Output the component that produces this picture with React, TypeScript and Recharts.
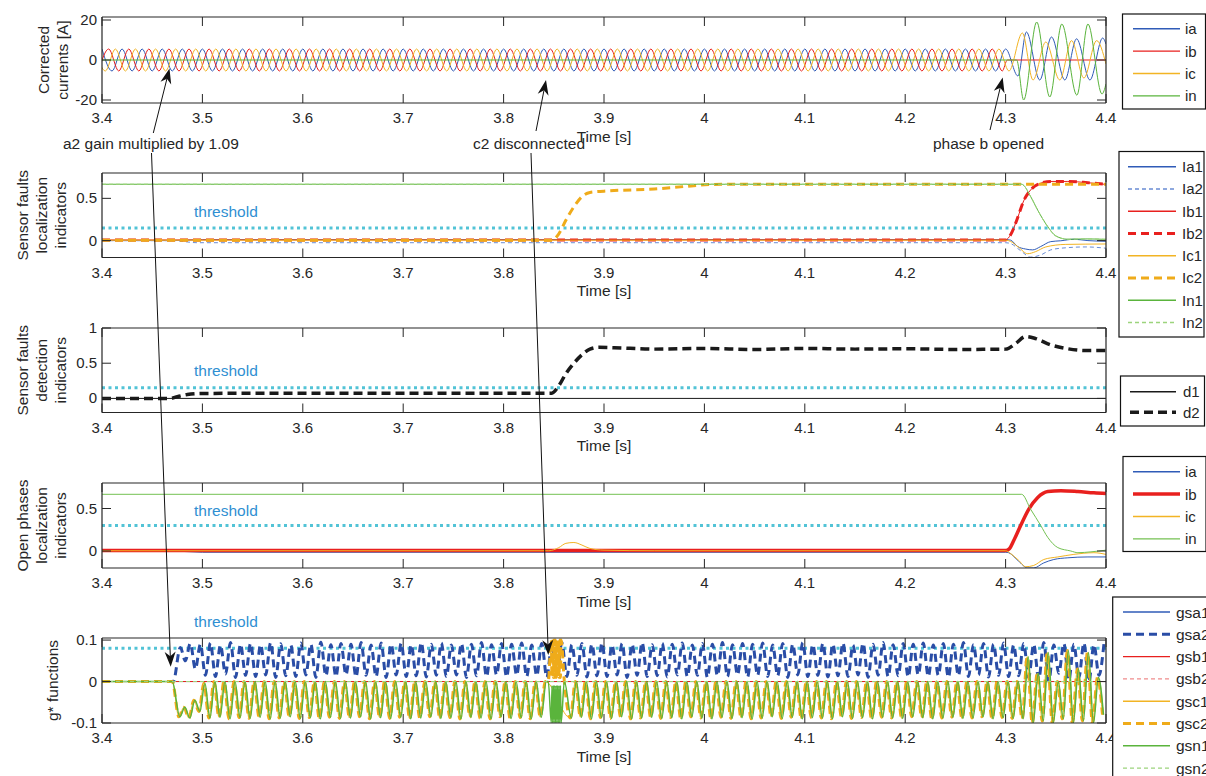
import React from 'react';
import { LineChart, Line, XAxis, YAxis, ReferenceLine } from 'recharts';

const FONT = '"Liberation Sans", Arial, Helvetica, sans-serif';
const AX = '#262626';
const TXT = '#262626';
const BLUE = '#2f5bb7';
const BLUE_L = '#6a8cd4';
const BLUE_D = '#2a4da6';
const RED = '#e8201e';
const PINK = '#f08c8c';
const YEL = '#f2b424';
const ORANGE = '#efab1a';
const GREEN = '#5ab43c';
const GREEN_L = '#9cd47c';
const CYAN = '#52c3d6';
const THR_TXT = '#2f8fd2';
const TICK = 9;

const timeTicks = [3.4, 3.5, 3.6, 3.7, 3.8, 3.9, 4.0, 4.1, 4.2, 4.3, 4.4];
const timeLabels = ['3.4', '3.5', '3.6', '3.7', '3.8', '3.9', '4', '4.1', '4.2', '4.3', '4.4'];

// ---------- panel 1: corrected currents, extrema every 10 ms ----------
const iaPeaks = [
  5.5, -5.5, 5.5, -5.5, 5.5, -5.5, 5.5, -5.5, 5.5, -5.5,
  5.5, -5.5, 5.5, -5.5, 5.5, -5.5, 5.5, -5.5, 5.5, -5.5,
  5.5, -5.5, 5.5, -5.5, 5.5, -5.5, 5.5, -5.5, 5.5, -5.5,
  5.5, -5.5, 5.5, -5.5, 5.5, -5.5, 5.5, -5.5, 5.5, -5.5,
  5.5, -5.5, 5.5, -5.5, 5.5, -5.5, 5.5, -5.5, 5.5, -5.5,
  5.5, -5.5, 5.5, -5.5, 5.5, -5.5, 5.5, -5.5, 5.5, -5.5,
  5.5, -5.5, 5.5, -5.5, 5.5, -5.5, 5.5, -5.5, 5.5, -5.5,
  5.5, -5.5, 5.5, -5.5, 5.5, -5.5, 5.5, -5.5, 5.5, -5.5,
  5.5, -5.5, 5.5, -5.5, 5.5, -5.5, 5.5, -5.5, 5.5, -5.5,
  5.5,
];
const ibPeaks = [
  -5.5, 5.5, -5.5, 5.5, -5.5, 5.5, -5.5, 5.5, -5.5, 5.5,
  -5.5, 5.5, -5.5, 5.5, -5.5, 5.5, -5.5, 5.5, -5.5, 5.5,
  -5.5, 5.5, -5.5, 5.5, -5.5, 5.5, -5.5, 5.5, -5.5, 5.5,
  -5.5, 5.5, -5.5, 5.5, -5.5, 5.5, -5.5, 5.5, -5.5, 5.5,
  -5.5, 5.5, -5.5, 5.5, -5.5, 5.5, -5.5, 5.5, -5.5, 5.5,
  -5.5, 5.5, -5.5, 5.5, -5.5, 5.5, -5.5, 5.5, -5.5, 5.5,
  -5.5, 5.5, -5.5, 5.5, -5.5, 5.5, -5.5, 5.5, -5.5, 5.5,
  -5.5, 5.5, -5.5, 5.5, -5.5, 5.5, -5.5, 5.5, -5.5, 5.5,
  -5.5, 5.5, -5.5, 5.5, -5.5, 5.5, -5.5, 5.5, -5.5, 5.5,
  -5.5,
];
const icPeaks = [
  5.5, -5.5, 5.5, -5.5, 5.5, -5.5, 5.5, -5.5, 5.5, -5.5,
  5.5, -5.5, 5.5, -5.5, 5.5, -5.5, 5.5, -5.5, 5.5, -5.5,
  5.5, -5.5, 5.5, -5.5, 5.5, -5.5, 5.5, -5.5, 5.5, -5.5,
  5.5, -5.5, 5.5, -5.5, 5.5, -5.5, 5.5, -5.5, 5.5, -5.5,
  5.5, -5.5, 5.5, -5.5, 5.5, -5.5, 5.5, -5.5, 5.5, -5.5,
  5.5, -5.5, 5.5, -5.5, 5.5, -5.5, 5.5, -5.5, 5.5, -5.5,
  5.5, -5.5, 5.5, -5.5, 5.5, -5.5, 5.5, -5.5, 5.5, -5.5,
  5.5, -5.5, 5.5, -5.5, 5.5, -5.5, 5.5, -5.5, 5.5, -5.5,
  5.5, -5.5, 5.5, -5.5, 5.5, -5.5, 5.5, -5.5, 5.5, -5.5,
  5.5,
];
const iaAfterT = [4.3123, 4.3207, 4.334, 4.3457, 4.359, 4.3707, 4.384, 4.3967, 4.4];
const iaAfterV = [-8, 14, -10, 11.5, -10, 10.6, -10, 11, 8];
const ibAfterT = [4.3017, 4.4];
const ibAfterV = [0, 0];
const icAfterT = [4.3033, 4.3167, 4.3273, 4.34, 4.354, 4.3657, 4.378, 4.3907, 4.4];
const icAfterV = [-5.5, 13.5, -10, 9, -10, 9.7, -9, 9.7, -2];
const inT = [3.4, 4.311, 4.318, 4.331, 4.344, 4.356, 4.371, 4.382, 4.396, 4.4];
const inV = [0, 0, -20, 19, -18.5, 18, -17.6, 18, -17, -12];

// ---------- panel 2: sensor faults localization ----------
const la1T = [3.4, 3.47, 3.5, 4.3, 4.305, 4.312, 4.32, 4.327, 4.335, 4.345, 4.355, 4.368, 4.382, 4.4];
const la1V = [0, 0, 0.012, 0.012, 0.005, -0.07, -0.1, -0.11, -0.07, -0.012, -0.002, 0.016, 0.0, -0.008];
const la2T = [3.4, 3.47, 3.495, 4.3, 4.305, 4.315, 4.325, 4.335, 4.345, 4.36, 4.38, 4.4];
const la2V = [0, 0, -0.025, -0.025, -0.035, -0.12, -0.195, -0.17, -0.11, -0.085, -0.075, -0.09];
const lbT = [3.4, 4.3, 4.305, 4.312, 4.318, 4.325, 4.335, 4.345, 4.362, 4.382, 4.4];
const lbV = [0.008, 0.008, 0.07, 0.27, 0.47, 0.6, 0.68, 0.7, 0.7, 0.685, 0.665];
const lc1T = [3.4, 4.3, 4.305, 4.313, 4.322, 4.33, 4.34, 4.36, 4.4];
const lc1V = [0.005, 0.005, -0.01, -0.08, -0.155, -0.13, -0.075, -0.045, -0.04];
const lc2T = [3.4, 3.848, 3.855, 3.862, 3.87, 3.878, 3.886, 3.9, 3.95, 3.98, 4.0, 4.02, 4.4];
const lc2V = [0.005, 0.005, 0.08, 0.24, 0.4, 0.52, 0.57, 0.585, 0.61, 0.64, 0.66, 0.667, 0.667];
const lnT = [3.4, 4.316, 4.325, 4.332, 4.342, 4.35, 4.362, 4.38, 4.4];
const lnV = [0.667, 0.667, 0.52, 0.36, 0.165, 0.055, 0.016, 0.02, 0.015];

// ---------- panel 3: sensor faults detection ----------
const d1T = [3.4, 4.4];
const d1V = [0, 0];
const d2T = [3.4, 3.468, 3.475, 3.485, 3.5, 3.6, 3.7, 3.8, 3.848, 3.855, 3.862, 3.87, 3.878, 3.886, 3.895, 3.91,
  3.95, 4.0, 4.05, 4.1, 4.15, 4.2, 4.25, 4.3, 4.31, 4.32, 4.33, 4.345, 4.36, 4.38, 4.4];
const d2V = [0, 0, 0.025, 0.055, 0.07, 0.075, 0.072, 0.072, 0.075, 0.18, 0.35, 0.5, 0.62, 0.7, 0.725, 0.72,
  0.7, 0.71, 0.695, 0.71, 0.7, 0.705, 0.695, 0.7, 0.78, 0.88, 0.85, 0.76, 0.71, 0.68, 0.68];

// ---------- panel 4: open phases localization ----------
const oaT = [3.4, 3.47, 3.5, 4.3, 4.303, 4.313, 4.322, 4.328, 4.338, 4.348, 4.362, 4.382, 4.4];
const oaV = [0, 0, -0.015, -0.015, -0.02, -0.12, -0.2, -0.2, -0.14, -0.1, -0.08, -0.07, -0.07];
const obT = [3.4, 4.3, 4.304, 4.308, 4.315, 4.323, 4.332, 4.342, 4.355, 4.372, 4.388, 4.4];
const obV = [0.005, 0.005, 0.03, 0.12, 0.3, 0.49, 0.63, 0.7, 0.71, 0.7, 0.685, 0.677];
const ocT = [3.4, 3.845, 3.855, 3.862, 3.87, 3.878, 3.886, 3.9, 3.95, 4.3, 4.305, 4.313, 4.32, 4.328, 4.338, 4.352, 4.368, 4.388, 4.4];
const ocV = [0.003, 0.003, 0.04, 0.09, 0.1, 0.07, 0.03, 0.01, 0.003, 0.003, -0.03, -0.11, -0.185, -0.17, -0.1, -0.07, -0.04, -0.02, -0.04];
const onT = [3.4, 4.316, 4.325, 4.335, 4.342, 4.352, 4.365, 4.372, 4.385, 4.4];
const onV = [0.667, 0.667, 0.49, 0.3, 0.16, 0.04, 0, -0.02, -0.01, 0.01];

// ---------- panel 5: g* functions, extrema every 5 ms ----------
const gFlatT = [3.4, 3.47];
const gFlatV = [0, 0];
const gZeroT = [3.4, 4.4];
const gZeroV = [0, 0];
const gsa2Peaks = [
  0.082, 0.05, 0.092, 0.03, 0.09, 0.015, 0.093, 0.012, 0.088, 0.018,
  0.094, 0.01, 0.09, 0.015, 0.092, 0.012, 0.089, 0.016, 0.094, 0.01,
  0.091, 0.014, 0.088, 0.012, 0.093, 0.016, 0.09, 0.01, 0.095, 0.014,
  0.089, 0.012, 0.092, 0.016, 0.09, 0.011, 0.094, 0.015, 0.088, 0.012,
  0.093, 0.01, 0.09, 0.016, 0.092, 0.012, 0.089, 0.014, 0.094, 0.011,
  0.09, 0.015, 0.093, 0.012, 0.088, 0.016, 0.092, 0.01, 0.09, 0.014,
  0.094, 0.012, 0.089, 0.016, 0.092, 0.011, 0.09, 0.015, 0.093, 0.012,
  0.088, 0.014, 0.092, 0.01, 0.09, 0.016, 0.094, 0.012, 0.089, 0.015,
  0.092, 0.011, 0.09, 0.014, 0.093, 0.012, 0.088, 0.016, 0.092, 0.01,
  0.09, 0.015, 0.094, 0.012, 0.089, 0.014, 0.092, 0.011, 0.09, 0.016,
  0.093, 0.012, 0.088, 0.015, 0.092, 0.01, 0.09, 0.014, 0.094, 0.012,
  0.089, 0.016, 0.092, 0.011, 0.09, 0.015, 0.093, 0.012, 0.088, 0.014,
  0.092, 0.01, 0.09, 0.016, 0.094, 0.012, 0.089, 0.015, 0.092, 0.011,
  0.09, 0.014, 0.093, 0.012, 0.088, 0.016, 0.092, 0.01, 0.09, 0.015,
  0.094, 0.012, 0.089, 0.014, 0.092, 0.011, 0.09, 0.016, 0.093, 0.012,
  0.088, 0.015, 0.092, 0.01, 0.09, 0.014, 0.094, 0.012, 0.089, 0.016,
  0.092, 0.011, 0.09, 0.015, 0.093, 0.012, 0.088, 0.014, 0.092, 0.01,
  0.09, 0.005, 0.094, 0, 0.088, 0.02, 0.092, 0.003, 0.09, 0.01,
  0.093, 0, 0.089, 0.015, 0.092,
];
const gscBefore = [
  -0.085, -0.062, -0.088, -0.045, -0.072, -0.004, -0.088, 0, -0.086, 0,
  -0.09, 0, -0.087, 0, -0.089, 0, -0.086, 0, -0.09, 0,
  -0.088, 0, -0.085, 0, -0.089, 0, -0.087, 0, -0.09, 0,
  -0.086, 0, -0.089, 0, -0.088, 0, -0.085, 0, -0.09, 0,
  -0.087, 0, -0.089, 0, -0.086, 0, -0.09, 0, -0.088, 0,
  -0.085, 0, -0.089, 0, -0.087, 0, -0.09, 0, -0.086, 0,
  -0.088, 0, -0.09, 0, -0.085, 0, -0.089, 0, -0.087, 0,
  -0.09, 0, -0.086, 0,
];
const gscAfter = [
  -0.088, 0, -0.086, 0, -0.09, 0, -0.087, 0, -0.089, 0,
  -0.085, 0, -0.09, 0, -0.088, 0, -0.086, 0, -0.089, 0,
  -0.087, 0, -0.09, 0, -0.085, 0, -0.088, 0, -0.09, 0,
  -0.086, 0, -0.089, 0, -0.087, 0, -0.09, 0, -0.088, 0,
  -0.085, 0, -0.089, 0, -0.086, 0, -0.09, 0, -0.087, 0,
  -0.088, 0, -0.09, 0, -0.085, 0, -0.089, 0, -0.087, 0,
  -0.09, 0, -0.086, 0, -0.088, 0, -0.089, 0, -0.085, 0,
  -0.087, 0, -0.09, 0, -0.088, 0, -0.086, 0, -0.089, 0,
  -0.088, 0, -0.085, 0, -0.09, 0, -0.087, 0, -0.089, 0,
  -0.09,
  0.06, -0.1, 0.02, -0.095, 0.07, -0.1, 0, -0.09, 0.075, -0.1, 0.03, -0.095, 0.07, -0.1, 0.01, -0.08,
];
// burst when c2 is disconnected
const spikeT = [3.8445, 3.8475, 3.8482, 3.8489, 3.8496, 3.8503, 3.851, 3.8517, 3.8524, 3.8531,
  3.8538, 3.8545, 3.8552, 3.8559, 3.8566, 3.8573, 3.8605];
const gsc2Spike = [0, 0.1, 0.01, 0.1, 0.01, 0.1, 0.01, 0.1, 0.01, 0.1, 0.01, 0.1, 0.01, 0.1, 0.01, 0.1, 0];
const gsn1Spike = [0, -0.1, -0.01, -0.1, -0.01, -0.1, -0.01, -0.1, -0.01, -0.1, -0.01, -0.1, -0.01, -0.1, -0.01, -0.1, 0];

type Pt = { t: number; v: number };
const grid = (t0: number, dt: number, vals: number[]): Pt[] =>
  vals.map((v, i) => ({ t: +(t0 + i * dt).toFixed(5), v }));
const pts = (ts: number[], vals: number[]): Pt[] => ts.map((t, i) => ({ t, v: vals[i] }));

type Series = { name: string; data: Pt[]; color: string; w: number; dash?: string };
type Legend = { x: number; y: number; w: number; h: number; row0: number; step: number; lx1: number; lx2: number; tx: number; fs: number };
type PanelCfg = {
  top: number; bottom: number; domain: [number, number];
  yTicks: number[]; yLabels: string[];
  series: Series[]; threshold?: number; thrLabelY?: number;
  title: string[]; titleX: number[]; legend: Legend;
};

const panels: PanelCfg[] = [
  {
    top: 17, bottom: 103, domain: [-21.5, 21.5], yTicks: [-20, 0, 20], yLabels: ['-20', '0', '20'],
    title: ['Corrected', 'currents [A]'], titleX: [43, 62],
    legend: { x: 1122.5, y: 14, w: 83, h: 95, row0: 28.7, step: 22.4, lx1: 1133, lx2: 1180, tx: 1185, fs: 15 },
    series: [
      { name: 'ia', color: BLUE, w: 1, data: [...grid(3.4, 0.01, iaPeaks), ...pts(iaAfterT, iaAfterV)] },
      { name: 'ib', color: RED, w: 1, data: [...grid(3.39667, 0.01, ibPeaks), ...pts(ibAfterT, ibAfterV)] },
      { name: 'ic', color: YEL, w: 1, data: [...grid(3.39333, 0.01, icPeaks), ...pts(icAfterT, icAfterV)] },
      { name: 'in', color: GREEN, w: 1, data: pts(inT, inV) },
    ],
  },
  {
    top: 173, bottom: 257.5, domain: [-0.2, 0.8], yTicks: [0, 0.5], yLabels: ['0', '0.5'],
    threshold: 0.15, thrLabelY: 211.7,
    title: ['Sensor faults', 'localization', 'indicators'], titleX: [22, 41.5, 60],
    legend: { x: 1119, y: 151.5, w: 85, h: 185.5, row0: 166.7, step: 22.25, lx1: 1128, lx2: 1176, tx: 1182, fs: 15 },
    series: [
      { name: 'Ia1', color: BLUE, w: 1, data: pts(la1T, la1V) },
      { name: 'Ia2', color: BLUE_L, w: 1, dash: '4 3', data: pts(la2T, la2V) },
      { name: 'Ib1', color: RED, w: 1, data: pts(lbT, lbV) },
      { name: 'Ib2', color: RED, w: 3, dash: '8 5', data: pts(lbT, lbV) },
      { name: 'Ic1', color: YEL, w: 1, data: pts(lc1T, lc1V) },
      { name: 'Ic2', color: ORANGE, w: 3, dash: '8 5', data: pts(lc2T, lc2V) },
      { name: 'In1', color: GREEN, w: 1, data: pts(lnT, lnV) },
      { name: 'In2', color: GREEN_L, w: 1, dash: '4 3', data: pts(lnT, lnV) },
    ],
  },
  {
    top: 328, bottom: 412.5, domain: [-0.2, 1], yTicks: [0, 0.5, 1], yLabels: ['0', '0.5', '1'],
    threshold: 0.15, thrLabelY: 370.7,
    title: ['Sensor faults', 'detection', 'indicators'], titleX: [22, 41.5, 60],
    legend: { x: 1120.5, y: 376, w: 84, h: 50, row0: 391.7, step: 20.5, lx1: 1130, lx2: 1176, tx: 1183, fs: 15 },
    series: [
      { name: 'd1', color: '#1a1a1a', w: 1, data: pts(d1T, d1V) },
      { name: 'd2', color: '#1a1a1a', w: 3.5, dash: '9 5', data: pts(d2T, d2V) },
    ],
  },
  {
    top: 483, bottom: 568, domain: [-0.2, 0.8], yTicks: [0, 0.5], yLabels: ['0', '0.5'],
    threshold: 0.3, thrLabelY: 510,
    title: ['Open phases', 'localization', 'indicators'], titleX: [22, 41.5, 60],
    legend: { x: 1123, y: 456.5, w: 83, h: 95, row0: 471.7, step: 22.4, lx1: 1133, lx2: 1180, tx: 1185, fs: 15 },
    series: [
      { name: 'ia', color: BLUE, w: 1, data: pts(oaT, oaV) },
      { name: 'ib', color: RED, w: 3.5, data: pts(obT, obV) },
      { name: 'ic', color: YEL, w: 1, data: pts(ocT, ocV) },
      { name: 'in', color: '#74c152', w: 1, data: pts(onT, onV) },
    ],
  },
  {
    top: 638, bottom: 723, domain: [-0.1, 0.105], yTicks: [-0.1, 0, 0.1], yLabels: ['-0.1', '0', '0.1'],
    threshold: 0.08, thrLabelY: 621.7,
    title: ['g* functions'], titleX: [52],
    legend: { x: 1112.7, y: 597, w: 110, h: 200, row0: 612, step: 22.3, lx1: 1123, lx2: 1170, tx: 1176, fs: 15.5 },
    series: [
      { name: 'gsa1', color: BLUE, w: 1, data: pts(gZeroT, gZeroV) },
      { name: 'gsa2', color: BLUE_D, w: 3, dash: '8 5', data: [...pts([3.4, 3.471], gFlatV), ...grid(3.478, 0.005, gsa2Peaks)] },
      { name: 'gsb1', color: RED, w: 1, data: pts(gZeroT, gZeroV) },
      { name: 'gsb2', color: PINK, w: 1, dash: '4 3', data: pts(gZeroT, gZeroV) },
      { name: 'gsc1', color: YEL, w: 1, data: [...pts(gFlatT, gFlatV), ...grid(3.4765, 0.005, gscBefore), ...grid(3.8665, 0.005, gscAfter)] },
      { name: 'gsc2', color: ORANGE, w: 3, dash: '8 5', data: [...pts(gFlatT, gFlatV), ...grid(3.4765, 0.005, gscBefore), ...pts(spikeT, gsc2Spike), ...grid(3.8665, 0.005, gscAfter)] },
      { name: 'gsn1', color: GREEN, w: 1.5, data: [...pts(gFlatT, gFlatV), ...grid(3.4775, 0.005, gscBefore), ...pts(spikeT, gsn1Spike), ...grid(3.8675, 0.005, gscAfter)] },
      { name: 'gsn2', color: GREEN_L, w: 1, dash: '4 3', data: pts(gZeroT, gZeroV) },
    ],
  },
];

const labelFor = (ticks: number[], labels: string[], v: number) => {
  const i = ticks.findIndex((t) => Math.abs(t - v) < 1e-6);
  return i >= 0 ? labels[i] : '';
};

function Panel({ p }: { p: PanelCfg }) {
  const mt = 12;
  const mb = 32;
  const h = p.bottom - p.top;
  const axisCommon = { allowDataOverflow: true, interval: 0 as const, tickSize: 0, tickMargin: 0, stroke: AX, strokeWidth: 1.2 };
  return (
    <div style={{ position: 'absolute', left: 0, top: p.top - mt }}>
      <LineChart width={1206} height={h + mt + mb} margin={{ top: mt - 1, right: 99, bottom: mb - 1, left: 101 }}>
        <XAxis
          {...axisCommon}
          dataKey="t" type="number" domain={[3.4, 4.4]} ticks={timeTicks} height={1}
          tick={(props: any) => (
            <g>
              <line x1={props.x} y1={props.y} x2={props.x} y2={props.y - TICK} stroke={AX} />
              <text x={props.x} y={props.y + 20} textAnchor="middle" fontSize={15} fill={TXT} fontFamily={FONT}>
                {labelFor(timeTicks, timeLabels, props.payload.value)}
              </text>
            </g>
          )}
        />
        <XAxis
          {...axisCommon}
          xAxisId="top" orientation="top" dataKey="t" type="number" domain={[3.4, 4.4]} ticks={timeTicks} height={1}
          tick={(props: any) => <line x1={props.x} y1={props.y} x2={props.x} y2={props.y + TICK} stroke={AX} />}
        />
        <YAxis
          {...axisCommon}
          type="number" domain={p.domain} ticks={p.yTicks} width={1}
          tick={(props: any) => (
            <g>
              <line x1={props.x} y1={props.y} x2={props.x + TICK} y2={props.y} stroke={AX} />
              <text x={props.x - 5} y={props.y + 5} textAnchor="end" fontSize={15} fill={TXT} fontFamily={FONT}>
                {labelFor(p.yTicks, p.yLabels, props.payload.value)}
              </text>
            </g>
          )}
        />
        <YAxis
          {...axisCommon}
          yAxisId="r" orientation="right" type="number" domain={p.domain} ticks={p.yTicks} width={1}
          tick={(props: any) => <line x1={props.x} y1={props.y} x2={props.x - TICK} y2={props.y} stroke={AX} />}
        />
        {p.threshold !== undefined && (
          <ReferenceLine y={p.threshold} stroke={CYAN} strokeWidth={3} strokeDasharray="3 3.5" />
        )}
        {p.series.map((s) => (
          <Line
            key={s.name}
            data={s.data}
            dataKey="v"
            name={s.name}
            type="monotone"
            stroke={s.color}
            strokeWidth={s.w}
            strokeDasharray={s.dash}
            dot={false}
            activeDot={false}
            isAnimationActive={false}
          />
        ))}
      </LineChart>
    </div>
  );
}

function Arrow({ from, to }: { from: [number, number]; to: [number, number] }) {
  const [x1, y1] = from;
  const [x2, y2] = to;
  const len = Math.hypot(x2 - x1, y2 - y1);
  const ux = (x2 - x1) / len;
  const uy = (y2 - y1) / len;
  const L = 15;
  const W = 5.5;
  const bx = x2 - ux * L;
  const by = y2 - uy * L;
  const nx = x2 - ux * L * 0.7;
  const ny = y2 - uy * L * 0.7;
  return (
    <g>
      <line x1={x1} y1={y1} x2={nx} y2={ny} stroke="#111" strokeWidth={1} />
      <polygon
        points={`${x2},${y2} ${bx - uy * W},${by + ux * W} ${nx},${ny} ${bx + uy * W},${by - ux * W}`}
        fill="#111"
      />
    </g>
  );
}

function Overlay() {
  return (
    <svg width={1206} height={776} style={{ position: 'absolute', left: 0, top: 0, pointerEvents: 'none' }} fontFamily={FONT}>
      {panels.map((p, pi) => {
        const cy = (p.top + p.bottom) / 2;
        const lg = p.legend;
        return (
          <g key={pi}>
            {p.title.map((line, li) => (
              <text key={li} transform={`translate(${p.titleX[li]},${cy}) rotate(-90)`} textAnchor="middle"
                dominantBaseline="central" fontSize={15.5} fill={TXT}>{line}</text>
            ))}
            <text x={604} y={p.bottom + 33} textAnchor="middle" dominantBaseline="central" fontSize={15.5} fill={TXT}>Time [s]</text>
            {p.thrLabelY !== undefined && (
              <text x={194} y={p.thrLabelY} dominantBaseline="central" fontSize={15.5} fill={THR_TXT}>threshold</text>
            )}
            <rect x={lg.x} y={lg.y} width={lg.w} height={lg.h} fill="#fff" stroke="#111" strokeWidth={1.2} />
            {p.series.map((s, si) => {
              const ry = lg.row0 + si * lg.step;
              return (
                <g key={s.name}>
                  <line x1={lg.lx1} y1={ry} x2={lg.lx2} y2={ry} stroke={s.color}
                    strokeWidth={s.w === 1 ? 1.4 : s.w} strokeDasharray={s.dash} />
                  <text x={lg.tx} y={ry} dominantBaseline="central" fontSize={lg.fs} fill={TXT}>{s.name}</text>
                </g>
              );
            })}
          </g>
        );
      })}
      <text x={63} y={143.7} dominantBaseline="central" fontSize={15.5} fill={TXT}>a2 gain multiplied by 1.09</text>
      <text x={473} y={143.5} dominantBaseline="central" fontSize={15.5} fill={TXT}>c2 disconnected</text>
      <text x={933} y={143.5} dominantBaseline="central" fontSize={15.5} fill={TXT}>phase b opened</text>
      <Arrow from={[153.3, 133]} to={[169.5, 68.5]} />
      <Arrow from={[151.5, 153]} to={[170.7, 666.7]} />
      <Arrow from={[536, 131]} to={[546, 80]} />
      <Arrow from={[531, 153]} to={[548.3, 655]} />
      <Arrow from={[990, 130]} to={[1002.7, 77.5]} />
    </svg>
  );
}

export default function App() {
  return (
    <div style={{ position: 'absolute', left: 0, top: 0, width: 1206, height: 776, overflow: 'hidden', background: '#fff', fontFamily: FONT }}>
      {panels.map((p, i) => (
        <Panel key={i} p={p} />
      ))}
      <Overlay />
    </div>
  );
}
